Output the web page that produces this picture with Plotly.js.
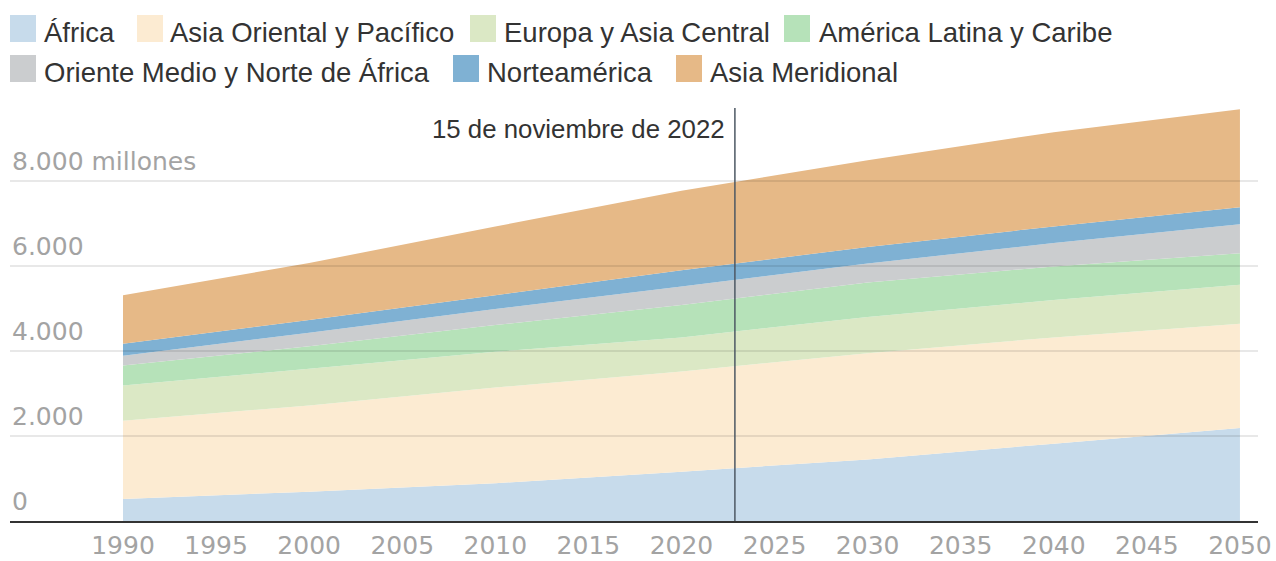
<!DOCTYPE html>
<html>
<head>
<meta charset="utf-8">
<script src="https://cdn.plot.ly/plotly-3.0.1.min.js"></script>
<style>
  html, body { margin: 0; padding: 0; background: #ffffff; }
  #chart { width: 1276px; height: 561px; }
</style>
</head>
<body>
<div id="chart"></div>
<script>
// ---- Data (millions of people) ----
const years = [1990, 2000, 2010, 2020, 2030, 2040, 2050];
const regionNames = [
  "África",
  "Asia Oriental y Pacífico",
  "Europa y Asia Central",
  "América Latina y Caribe",
  "Oriente Medio y Norte de África",
  "Norteamérica",
  "Asia Meridional"
];
const africa        = [520, 690, 890, 1160, 1450, 1820, 2190];
const asiaOriental  = [1840, 2030, 2250, 2360, 2500, 2500, 2450];
const europaAsiaC   = [830, 860, 840, 800, 850, 880, 920];
const americaLatina = [470, 530, 630, 760, 810, 790, 740];
const orienteMedio  = [230, 320, 380, 440, 450, 550, 680];
const norteamerica  = [280, 300, 320, 380, 390, 390, 400];
const asiaMeridional= [1140, 1340, 1620, 1870, 2040, 2220, 2310];

const yTickValues = [0, 2000, 4000, 6000, 8000];
const yTickLabels = ["0", "2.000", "4.000", "6.000", "8.000 millones"];
const xTickValues = [1990, 1995, 2000, 2005, 2010, 2015, 2020, 2025, 2030, 2035, 2040, 2045, 2050];
const markerDate = 2022.87; // 15 de noviembre de 2022
const markerLabel = "15 de noviembre de 2022";

// ---- Styling ----
const colors = ["#c7dbeb", "#fcebd2", "#dbe8c5", "#b6e2b9", "#cbcdcf", "#7fb1d3", "#e6b987"];
const series = [africa, asiaOriental, europaAsiaC, americaLatina, orienteMedio, norteamerica, asiaMeridional];

const W = 1276, H = 561;
const M = {l: 10, r: 18, t: 100, b: 40};
const plotW = W - M.l - M.r, plotH = H - M.t - M.b;
const px2x = px => (px - M.l) / plotW;
const py2y = py => (H - M.b - py) / plotH;

const traces = series.map((vals, i) => ({
  type: "scatter",
  x: years,
  y: vals,
  name: regionNames[i],
  stackgroup: "one",
  mode: "none",
  fillcolor: colors[i],
  line: {width: 0},
  showlegend: false,
  hoverinfo: "skip"
}));

// Legend layout (two rows), positions in pixels
const legendItems = [
  {sq: 10,  tx: 44,  row: 0},
  {sq: 137, tx: 170, row: 0},
  {sq: 470, tx: 504, row: 0},
  {sq: 784, tx: 819, row: 0},
  {sq: 10,  tx: 44,  row: 1},
  {sq: 453, tx: 487, row: 1},
  {sq: 676, tx: 710, row: 1}
];
const rowTop = [15, 55];
const sqW = 26, sqH = 27;

const shapes = [];
const annotations = [];

legendItems.forEach((it, i) => {
  shapes.push({
    type: "rect", xref: "paper", yref: "paper",
    x0: px2x(it.sq), x1: px2x(it.sq + sqW),
    y0: py2y(rowTop[it.row] + sqH), y1: py2y(rowTop[it.row]),
    fillcolor: colors[i], line: {width: 0}, layer: "above"
  });
  annotations.push({
    xref: "paper", yref: "paper",
    x: px2x(it.tx - 2), y: py2y(rowTop[it.row] + sqH / 2 + 4),
    xanchor: "left", yanchor: "middle",
    text: regionNames[i], showarrow: false,
    font: {family: "Liberation Sans, Arial, sans-serif", size: 27.5, color: "#333333"}
  });
});

// Gridlines above the areas
yTickValues.forEach((v, i) => {
  if (v === 0) return;
  shapes.push({
    type: "line", xref: "paper", yref: "y",
    x0: 0, x1: 1, y0: v, y1: v,
    line: {color: "rgba(0,0,0,0.09)", width: 2}, layer: "above"
  });
});
// Y tick labels
yTickValues.forEach((v, i) => {
  annotations.push({
    xref: "paper", yref: "y", x: 0, y: v,
    xanchor: "left", yanchor: "middle", yshift: 20,
    text: yTickLabels[i], showarrow: false,
    font: {family: "DejaVu Sans, sans-serif", size: 25, color: "#a3a3a3"}
  });
});

// Marker line for the date
shapes.push({
  type: "line", xref: "x", yref: "paper",
  x0: markerDate, x1: markerDate, y0: 0, y1: py2y(108),
  line: {color: "#4d5863", width: 1.5}, layer: "above"
});
annotations.push({
  xref: "x", yref: "paper", x: markerDate, y: py2y(129),
  xanchor: "right", yanchor: "middle", xshift: -8,
  text: markerLabel, showarrow: false,
  font: {family: "Liberation Sans, Arial, sans-serif", size: 25.8, color: "#333333"}
});

const layout = {
  width: W, height: H,
  margin: M,
  paper_bgcolor: "#ffffff",
  plot_bgcolor: "#ffffff",
  showlegend: false,
  hovermode: false,
  xaxis: {
    range: [1983.93, 2050.97],
    tickvals: xTickValues,
    ticktext: xTickValues.map(String),
    showgrid: false, zeroline: false,
    showline: true, linecolor: "#333333", linewidth: 1.5,
    ticks: "",
    ticklabelstandoff: 1,
    tickfont: {family: "DejaVu Sans, sans-serif", size: 25, color: "#a3a3a3"},
    fixedrange: true
  },
  yaxis: {
    range: [0, 9906],
    showgrid: false, zeroline: false, showline: false,
    showticklabels: false, ticks: "",
    fixedrange: true
  },
  shapes: shapes,
  annotations: annotations
};

Plotly.newPlot("chart", traces, layout, {staticPlot: true, displayModeBar: false});
</script>
</body>
</html>
